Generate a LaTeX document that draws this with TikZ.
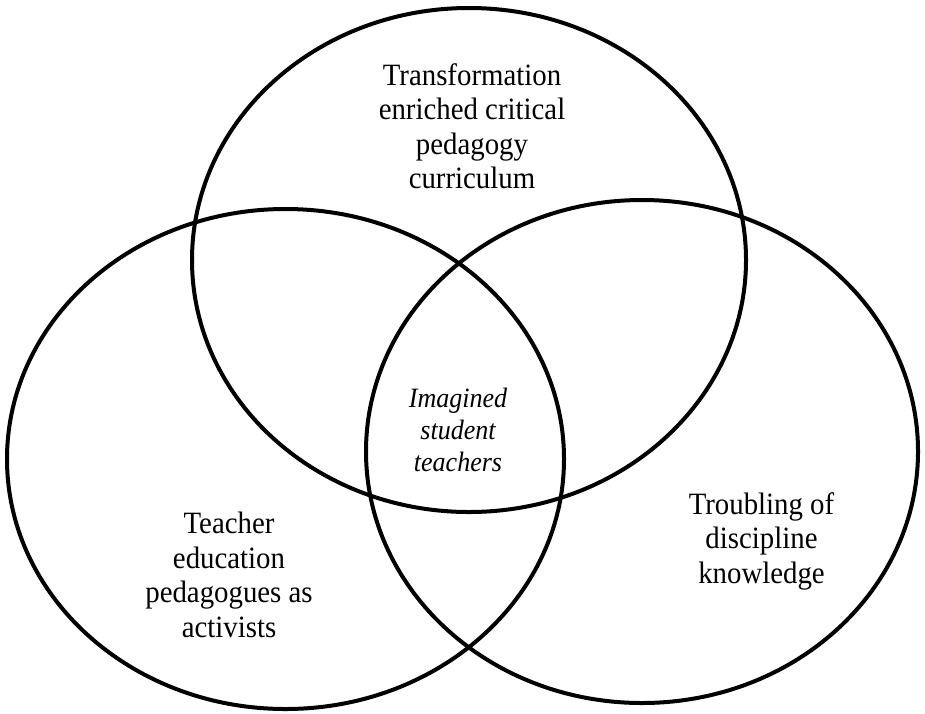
\documentclass[tikz,border=0pt]{standalone}
\usepackage{fontspec}
\setmainfont{Liberation Serif}[FakeStretch=0.93]
\begin{document}
\begin{tikzpicture}[x=1pt,y=-1pt,
  ring/.style={draw=black,line width=4pt},
  label/.style={align=center,font=\fontsize{31}{34.5}\selectfont,inner sep=0pt},
  core/.style={align=center,font=\fontsize{28}{32}\itshape\selectfont,inner sep=0pt}]
  \useasboundingbox (0,0) rectangle (925,713);
  % three overlapping sets
  \draw[ring] (469,260) ellipse [x radius=277, y radius=252];
  \draw[ring] (285.5,459) ellipse [x radius=278.5, y radius=250];
  \draw[ring] (642,451.5) ellipse [x radius=276, y radius=251.5];
  % set labels
  \node[label] (top) at (472,126) {Transformation\\enriched critical\\pedagogy\\curriculum};
  \node[label] (left) at (229,575) {Teacher\\education\\pedagogues as\\activists};
  \node[label] (right) at (761.5,541) {Troubling of\\discipline\\knowledge};
  % shared centre
  \node[core] (centre) at (458,430) {Imagined\\student\\teachers};
\end{tikzpicture}
\end{document}
